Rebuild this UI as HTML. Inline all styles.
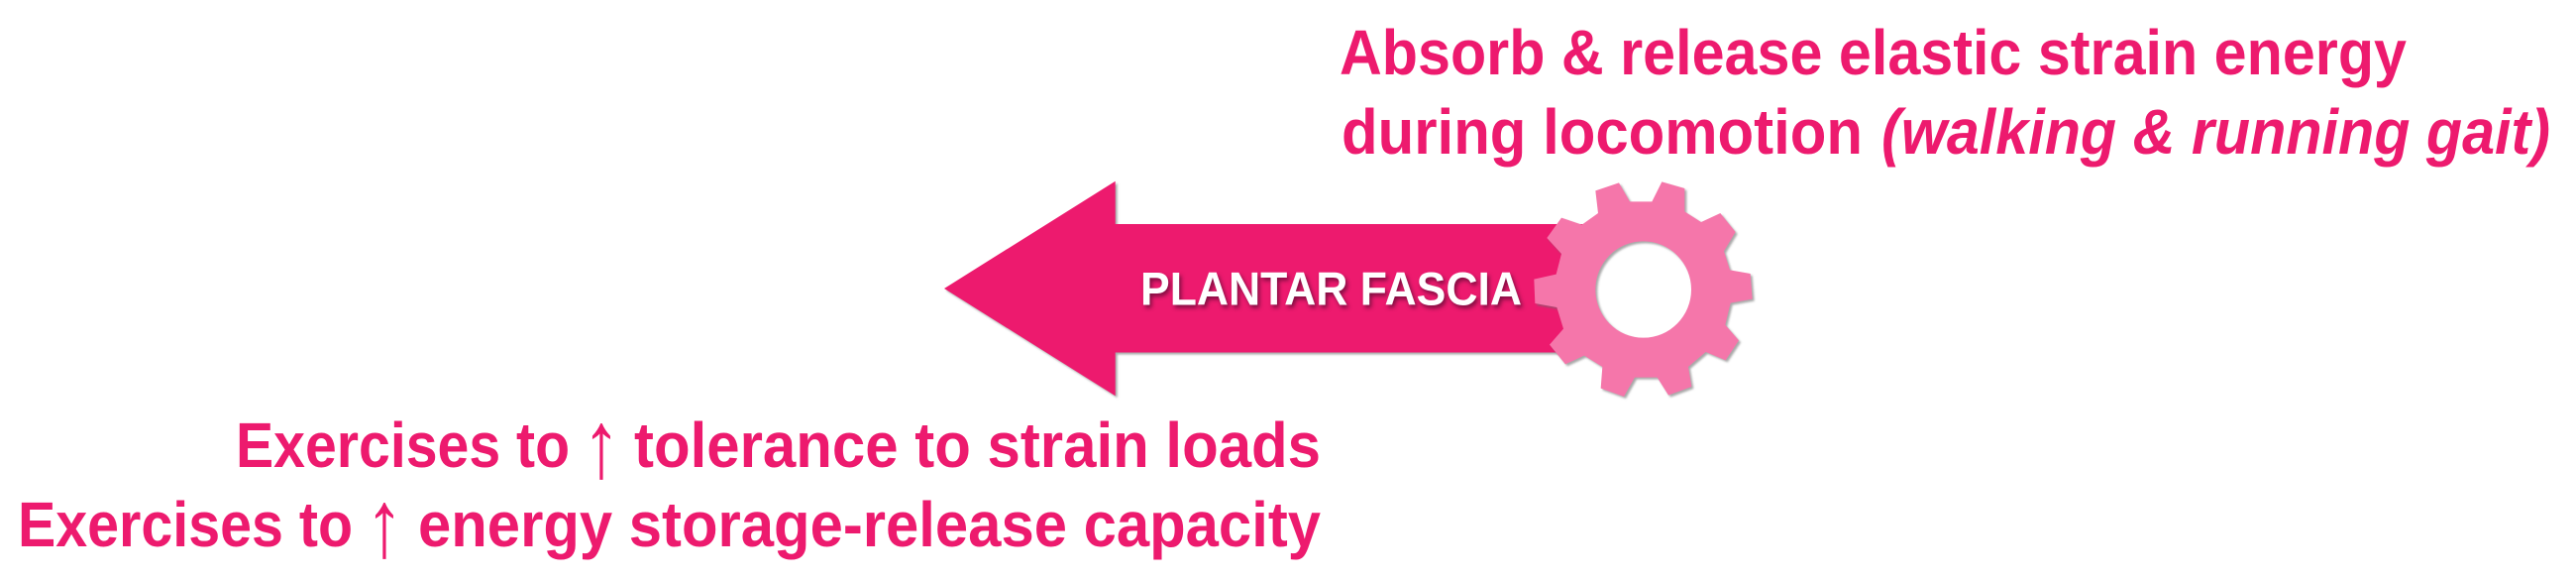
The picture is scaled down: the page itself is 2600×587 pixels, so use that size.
<!DOCTYPE html>
<html lang="en">
<head>
<meta charset="utf-8">
<title>Plantar Fascia</title>
<style>
html,body{margin:0;padding:0;background:#fff;}
body{width:2600px;height:587px;overflow:hidden;}
svg{display:block;}
text{font-family:"Liberation Sans",sans-serif;font-weight:bold;fill:#ed1a6e;}
.t{font-size:64px;}
.i{font-style:italic;}
.up{font-weight:normal;}
.shape{filter:drop-shadow(2px 2px 1px rgba(110,110,110,.6));}
.label{font-size:47px;fill:#fff;filter:drop-shadow(2px 3px 2px rgba(90,10,50,.75));}
</style>
</head>
<body>
<svg width="2600" height="587" viewBox="0 0 2600 587" xmlns="http://www.w3.org/2000/svg">
  <rect width="2600" height="587" fill="#fff"/>
  <text class="t" x="1352" y="75" textLength="1077" lengthAdjust="spacingAndGlyphs">Absorb &amp; release elastic strain energy</text>
  <text class="t" x="1354" y="155" textLength="526" lengthAdjust="spacingAndGlyphs">during locomotion</text>
  <text class="t i" x="1899" y="155" textLength="675" lengthAdjust="spacingAndGlyphs">(walking &amp; running gait)</text>

  <polygon class="shape" fill="#ed1a6e" points="953,291 1125.7,182.7 1125.7,226 1600,226 1600,355.5 1125.7,355.5 1125.7,399.3"/>
  <text class="label" x="1151" y="307.7" textLength="385" lengthAdjust="spacingAndGlyphs">PLANTAR FASCIA</text>

  <g class="shape">
    <path fill="#f576aa" fill-rule="evenodd" transform="translate(1500 160) scale(.33333)" d="M331,97 L402,73 L435,130 L502,130 L532,70 L601,90 L601,160 L651,192 L709,165 L755,222 L720,280 L738,337 L800,348 L806,425 L740,437 L724,503 L765,550 L725,610 L665,585 L612,630 L622,690 L552,716 L518,662 L450,662 L417,720 L347,695 L352,630 L297,596 L240,622 L192,563 L234,515 L214,450 L148,438 L145,365 L212,350 L228,288 L184,240 L228,179 L290,200 L339,165 Z M476,250 A145,146 0 1 0 476,542 A145,146 0 1 0 476,250 Z"/>
  </g>

  <text class="t" x="238" y="471" textLength="337" lengthAdjust="spacingAndGlyphs">Exercises to</text>
  <text class="up" transform="translate(607 481) scale(.8 1)" text-anchor="middle" style="font-size:96px">↑</text>
  <text class="t" x="640" y="471" textLength="693" lengthAdjust="spacingAndGlyphs">tolerance to strain loads</text>

  <text class="t" x="18" y="551" textLength="338" lengthAdjust="spacingAndGlyphs">Exercises to</text>
  <text class="up" transform="translate(388 561) scale(.8 1)" text-anchor="middle" style="font-size:96px">↑</text>
  <text class="t" x="422" y="551" textLength="911" lengthAdjust="spacingAndGlyphs">energy storage-release capacity</text>
</svg>
</body>
</html>
